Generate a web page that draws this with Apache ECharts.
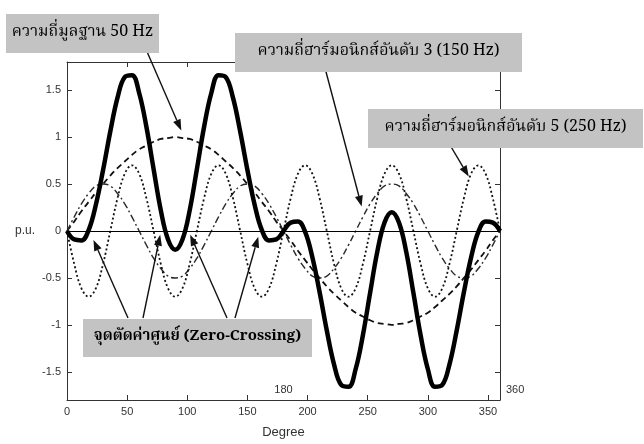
<!DOCTYPE html>
<html>
<head>
<meta charset="utf-8">
<script src="https://cdn.jsdelivr.net/npm/echarts@6/dist/echarts.min.js"></script>
<style>
  html, body { margin: 0; padding: 0; background: #fff; }
  #chart { width: 644px; height: 444px; }
</style>
</head>
<body>
<div id="chart"></div>
<script>
// มุม (องศา) ทุก 6 องศา
const degrees = [0, 6, 12, 18, 24, 30, 36, 42, 48, 54, 60, 66, 72, 78, 84, 90, 96, 102, 108, 114,
  120, 126, 132, 138, 144, 150, 156, 162, 168, 174, 180, 186, 192, 198, 204, 210, 216, 222, 228, 234,
  240, 246, 252, 258, 264, 270, 276, 282, 288, 294, 300, 306, 312, 318, 324, 330, 336, 342, 348, 354, 360];

// ความถี่มูลฐาน 50 Hz (เส้นประ)
const fundamental = [0, 0.10, 0.21, 0.31, 0.41, 0.50, 0.59, 0.67, 0.74, 0.81, 0.87, 0.91, 0.95, 0.98, 0.99, 1.00, 0.99, 0.98, 0.95, 0.91,
  0.87, 0.81, 0.74, 0.67, 0.59, 0.50, 0.41, 0.31, 0.21, 0.10, 0, -0.10, -0.21, -0.31, -0.41, -0.50, -0.59, -0.67, -0.74, -0.81,
  -0.87, -0.91, -0.95, -0.98, -0.99, -1.00, -0.99, -0.98, -0.95, -0.91, -0.87, -0.81, -0.74, -0.67, -0.59, -0.50, -0.41, -0.31, -0.21, -0.10, 0];

// ฮาร์มอนิกส์อันดับ 3 (เส้นประจุด)
const harmonic3 = [0, 0.15, 0.29, 0.40, 0.48, 0.50, 0.48, 0.40, 0.29, 0.15, 0, -0.15, -0.29, -0.40, -0.48, -0.50, -0.48, -0.40, -0.29, -0.15,
  0, 0.15, 0.29, 0.40, 0.48, 0.50, 0.48, 0.40, 0.29, 0.15, 0, -0.15, -0.29, -0.40, -0.48, -0.50, -0.48, -0.40, -0.29, -0.15,
  0, 0.15, 0.29, 0.40, 0.48, 0.50, 0.48, 0.40, 0.29, 0.15, 0, -0.15, -0.29, -0.40, -0.48, -0.50, -0.48, -0.40, -0.29, -0.15, 0];

// ฮาร์มอนิกส์อันดับ 5 (เส้นจุด)
const harmonic5 = [0, -0.35, -0.61, -0.70, -0.61, -0.35, 0, 0.35, 0.61, 0.70, 0.61, 0.35, 0, -0.35, -0.61, -0.70, -0.61, -0.35, 0, 0.35,
  0.61, 0.70, 0.61, 0.35, 0, -0.35, -0.61, -0.70, -0.61, -0.35, 0, 0.35, 0.61, 0.70, 0.61, 0.35, 0, -0.35, -0.61, -0.70,
  -0.61, -0.35, 0, 0.35, 0.61, 0.70, 0.61, 0.35, 0, -0.35, -0.61, -0.70, -0.61, -0.35, 0, 0.35, 0.61, 0.70, 0.61, 0.35, 0];

// สัญญาณรวม (เส้นหนา)
const total = [0, -0.09, -0.10, 0.01, 0.28, 0.65, 1.06, 1.42, 1.64, 1.66, 1.47, 1.11, 0.66, 0.22, -0.09, -0.20, -0.09, 0.22, 0.66, 1.11,
  1.47, 1.66, 1.64, 1.42, 1.06, 0.65, 0.28, 0.01, -0.10, -0.09, 0, 0.09, 0.10, -0.01, -0.28, -0.65, -1.06, -1.42, -1.64, -1.66,
  -1.47, -1.11, -0.66, -0.22, 0.09, 0.20, 0.09, -0.22, -0.66, -1.11, -1.47, -1.66, -1.64, -1.42, -1.06, -0.65, -0.28, -0.01, 0.10, 0.09, 0];

const xTicks = [0, 50, 100, 150, 200, 250, 300, 350];
const yTicks = [-1.5, -1, -0.5, 0, 0.5, 1, 1.5];

const pairs = (vals) => degrees.map((d, i) => [d, vals[i]]);

const tickFont = { fontFamily: 'Liberation Sans, Arial, sans-serif', fontSize: 11, color: '#333' };
const thaiFont = "'Noto Serif Thai', 'Noto Sans Thai', 'Liberation Serif', serif";

const chart = echarts.init(document.getElementById('chart'));

const boxAxisX = {
  type: 'value', min: 0, max: 360,
  axisLine: { show: true, onZero: false, lineStyle: { color: '#333', width: 1 } },
  axisTick: { show: true, inside: true, length: 5, customValues: xTicks, lineStyle: { color: '#333' } },
  splitLine: { show: false }
};
const boxAxisY = {
  type: 'value', min: -1.8, max: 1.8,
  axisLine: { show: true, onZero: false, lineStyle: { color: '#333', width: 1 } },
  axisTick: { show: true, inside: true, length: 5, customValues: yTicks, lineStyle: { color: '#333' } },
  splitLine: { show: false }
};

chart.setOption({
  animation: false,
  backgroundColor: '#fff',
  grid: { left: 67, right: 144, top: 62, bottom: 38 },
  xAxis: [
    Object.assign({}, boxAxisX, {
      position: 'bottom',
      name: 'Degree', nameLocation: 'middle', nameGap: 26,
      nameTextStyle: { fontFamily: 'Liberation Sans, Arial, sans-serif', fontSize: 13, color: '#333' },
      axisLabel: Object.assign({ customValues: xTicks, margin: 6 }, tickFont)
    }),
    Object.assign({}, boxAxisX, { position: 'top', axisLabel: { show: false } })
  ],
  yAxis: [
    Object.assign({}, boxAxisY, {
      position: 'left',
      name: 'p.u.', nameLocation: 'middle', nameRotate: 0, nameGap: 32,
      nameTextStyle: { fontFamily: 'Liberation Sans, Arial, sans-serif', fontSize: 12, color: '#333' },
      axisLabel: Object.assign({ customValues: yTicks, margin: 6 }, tickFont)
    }),
    Object.assign({}, boxAxisY, { position: 'right', axisLabel: { show: false } })
  ],
  series: [
    {
      name: 'fundamental', type: 'line', data: pairs(fundamental), showSymbol: false, smooth: 0.4,
      lineStyle: { color: '#111', width: 1.8, type: [6, 4] }
    },
    {
      name: 'harmonic3', type: 'line', data: pairs(harmonic3), showSymbol: false, smooth: 0.4,
      lineStyle: { color: '#2a2a2a', width: 1.4, type: [7, 3, 2, 3] }
    },
    {
      name: 'harmonic5', type: 'line', data: pairs(harmonic5), showSymbol: false, smooth: 0.4,
      lineStyle: { color: '#111', width: 1.8, type: [2, 2.5] }
    },
    {
      name: 'total', type: 'line', data: pairs(total), showSymbol: false, smooth: 0.4,
      lineStyle: { color: '#000', width: 4.5 },
      markLine: {
        silent: true, symbol: 'none', label: { show: false },
        lineStyle: { color: '#000', width: 1, type: 'solid' },
        data: [{ yAxis: 0 }]
      }
    }
  ]
});

// ลูกศรชี้ (หางเป็นพิกเซล ปลายเป็นค่าข้อมูล)
const arrows = [
  { from: [145, 47], to: [95, 1.07] },
  { from: [325, 68], to: [245, 0.26] },
  { from: [447, 140], to: [334, 0.58] },
  { from: [128, 318], to: [22, -0.095] },
  { from: [143, 318], to: [77.5, -0.04] },
  { from: [227, 318], to: [102.4, -0.04] },
  { from: [235, 318], to: [159, -0.06] }
];

// กล่องข้อความ
const boxes = [
  { x: 6, y: 14, w: 153, h: 39, text: 'ความถี่มูลฐาน 50 Hz', size: 16, bold: false },
  { x: 235, y: 33, w: 287, h: 39, text: 'ความถี่ฮาร์มอนิกส์อันดับ 3 (150 Hz)', size: 16, bold: false },
  { x: 368, y: 109, w: 275, h: 39, text: 'ความถี่ฮาร์มอนิกส์อันดับ 5 (250 Hz)', size: 16, bold: false },
  { x: 83, y: 319, w: 229, h: 38, text: 'จุดตัดค่าศูนย์ (Zero-Crossing)', size: 15, bold: true }
];

const graphics = [];
arrows.forEach((a) => {
  const tip = chart.convertToPixel({ xAxisIndex: 0, yAxisIndex: 0 }, a.to);
  const dx = tip[0] - a.from[0];
  const dy = tip[1] - a.from[1];
  const len = Math.sqrt(dx * dx + dy * dy);
  const ux = dx / len, uy = dy / len;
  const headLen = 11, headW = 4;
  const bx = tip[0] - ux * headLen, by = tip[1] - uy * headLen;
  graphics.push({
    type: 'line', z: 50, silent: true,
    shape: { x1: a.from[0], y1: a.from[1], x2: bx, y2: by },
    style: { stroke: '#111', lineWidth: 1.4 }
  });
  graphics.push({
    type: 'polygon', z: 50, silent: true,
    shape: { points: [tip, [bx - uy * headW, by + ux * headW], [bx + uy * headW, by - ux * headW]] },
    style: { fill: '#111' }
  });
});
boxes.forEach((b) => {
  graphics.push({
    type: 'rect', z: 60, silent: true,
    shape: { x: b.x, y: b.y, width: b.w, height: b.h },
    style: { fill: '#c3c3c3' }
  });
  graphics.push({
    type: 'text', z: 61, silent: true,
    x: b.x + b.w / 2, y: b.y + b.h / 2,
    style: {
      text: b.text, fill: '#000', align: 'center', verticalAlign: 'middle',
      font: (b.bold ? 'bold ' : '') + b.size + 'px ' + thaiFont
    }
  });
});

// ป้ายกำกับ 180 และ 360
const p180 = chart.convertToPixel({ xAxisIndex: 0, yAxisIndex: 0 }, [180, -1.69]);
graphics.push({
  type: 'text', z: 40, silent: true, x: p180[0], y: p180[1],
  style: { text: '180', fill: '#333', align: 'center', verticalAlign: 'middle', font: '11px Liberation Sans, Arial, sans-serif' }
});
const p360 = chart.convertToPixel({ xAxisIndex: 0, yAxisIndex: 0 }, [360, -1.69]);
graphics.push({
  type: 'text', z: 40, silent: true, x: p360[0] + 6, y: p360[1],
  style: { text: '360', fill: '#333', align: 'left', verticalAlign: 'middle', font: '11px Liberation Sans, Arial, sans-serif' }
});

chart.setOption({ graphic: graphics });
</script>
</body>
</html>
